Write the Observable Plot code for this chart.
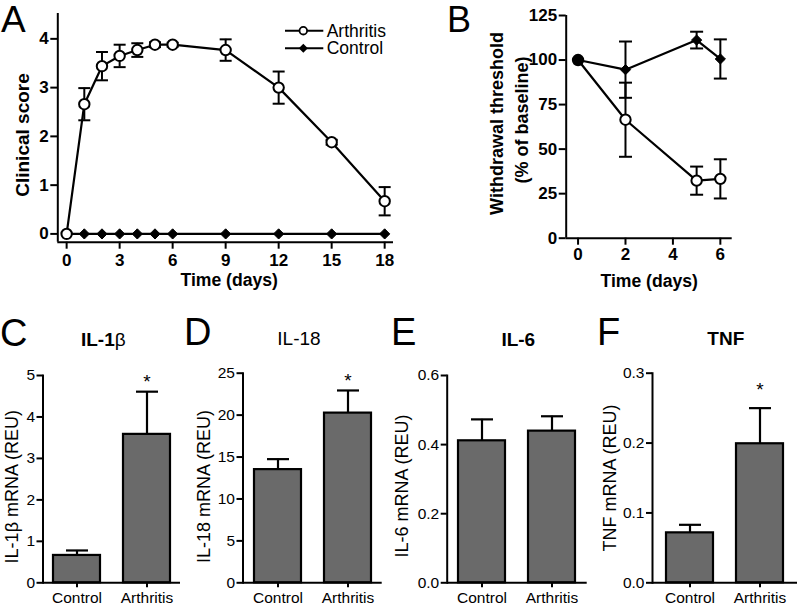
<!DOCTYPE html>
<html><head><meta charset="utf-8">
<script src="https://cdn.jsdelivr.net/npm/d3@7"></script>
<script src="https://cdn.jsdelivr.net/npm/@observablehq/plot@0.6"></script>
<style>
body{margin:0;background:#fff;}
#root{position:relative;width:797px;height:608px;overflow:hidden;background:#fff;}
.panel{position:absolute;}
.panel svg{max-width:none;background:transparent;}
#overlay{position:absolute;left:0;top:0;pointer-events:none;}
.toppanel g[aria-label^="x-axis"] text, .toppanel g[aria-label^="y-axis"] text{font-size:17px !important;font-weight:bold !important;fill:#000 !important;font-family:"Liberation Sans", Arial, sans-serif !important;}
.botpanel g[aria-label^="x-axis"] text, .botpanel g[aria-label^="y-axis"] text{font-size:15.5px !important;font-weight:normal !important;fill:#000 !important;font-family:"Liberation Sans", Arial, sans-serif !important;}
</style></head><body><div id="root"></div>
<script>
// ---------- Panel A: clinical score ----------
const daysA = [0, 1, 2, 3, 4, 5, 6, 9, 12, 15, 18];
const arthritisA = [0, 2.66, 3.44, 3.65, 3.77, 3.88, 3.88, 3.77, 3.0, 1.88, 0.67];
const arthritisAErr = [0, 0.33, 0.29, 0.23, 0.14, 0.05, 0.04, 0.22, 0.33, 0.05, 0.29];
const controlA = [0, 0, 0, 0, 0, 0, 0, 0, 0, 0, 0];
const xTicksA = [0, 3, 6, 9, 12, 15, 18];
const yTicksA = [0, 1, 2, 3, 4];

// ---------- Panel B: withdrawal threshold ----------
const daysB = [0, 2, 5, 6];
const arthritisB = [100, 66.5, 32.3, 33.3];
const arthritisBErr = [0, 20.8, 7.9, 11];
const controlB = [100, 94.6, 111.2, 100.6];
const controlBErr = [0, 15.8, 4.7, 11];
const xTicksB = [0, 2, 4, 6];
const yTicksB = [0, 25, 50, 75, 100, 125];

// ---------- Panels C-F: mRNA ----------
const groups = ["Control", "Arthritis"];
const il1b = [0.66, 3.58], il1bErr = [0.12, 1.03], il1bSig = [false, true];
const il18 = [13.5, 20.24], il18Err = [1.25, 2.7], il18Sig = [false, true];
const il6 = [0.411, 0.439], il6Err = [0.062, 0.043], il6Sig = [false, false];
const tnf = [0.0715, 0.199], tnfErr = [0.0115, 0.051], tnfSig = [false, true];
const yTicksC = [0, 1, 2, 3, 4, 5];
const yTicksD = [0, 5, 10, 15, 20, 25];
const yTicksE = [0, 0.2, 0.4, 0.6];
const yTicksF = [0, 0.1, 0.2, 0.3];

const FONT = '"Liberation Sans", Arial, Helvetica, sans-serif';
const root = document.getElementById("root");
const capSymbol = {draw(ctx, size) { const r = Math.sqrt(size / Math.PI); ctx.moveTo(-r, 0); ctx.lineTo(r, 0); }};
const fInt = d3.format("d");
const f1 = d3.format(".1f");

function place(svg, left, top, cls) {
  const d = document.createElement("div");
  d.className = "panel " + cls; d.style.left = left + "px"; d.style.top = top + "px";
  d.appendChild(svg); root.appendChild(d);
}

function linePanel(o) {
  const A = o.days.map((d, i) => ({day: d, v: o.arth[i], e: o.arthErr[i]}));
  const C = o.days.map((d, i) => ({day: d, v: o.ctrl[i], e: o.ctrlErr ? o.ctrlErr[i] : 0}));
  const err = (data) => {
    const f = data.filter(d => d.e > 0);
    return [
      Plot.ruleX(f, {x: "day", y1: d => d.v - d.e, y2: d => d.v + d.e, stroke: "#000", strokeWidth: 2}),
      Plot.dot(f, {x: "day", y: d => d.v + d.e, symbol: capSymbol, r: o.capR, stroke: "#000", strokeWidth: 2, fill: "none"}),
      Plot.dot(f, {x: "day", y: d => d.v - d.e, symbol: capSymbol, r: o.capR, stroke: "#000", strokeWidth: 2, fill: "none"})
    ];
  };
  const arthMarks = [
    ...err(A),
    Plot.line(A, {x: "day", y: "v", stroke: "#000", strokeWidth: 2.2}),
    Plot.dot(A, {x: "day", y: "v", r: 5.2, stroke: "#000", strokeWidth: 2,
      fill: d => (o.fillOverlap && C.find(c => c.day === d.day).v === d.v) ? "#000" : "#fff"})
  ];
  const ctrlMarks = [
    ...err(C),
    Plot.line(C, {x: "day", y: "v", stroke: "#000", strokeWidth: 2.2}),
    Plot.dot(C, {x: "day", y: "v", symbol: "diamond2", r: 4.6, fill: "#000", stroke: "#000", strokeWidth: 1})
  ];
  const axisText = {fontSize: 17, fontWeight: "bold", fontFamily: FONT, fill: "#000"};
  return Plot.plot({
    width: o.width, height: o.height,
    marginLeft: o.mL, marginRight: o.mR, marginTop: o.mT, marginBottom: o.mB,
    x: {domain: o.xDomain}, y: {domain: o.yDomain},
    style: {fontFamily: FONT, fontSize: "17px", fontWeight: "bold", color: "#000", background: "transparent", overflow: "visible"},
    marks: [
      Plot.ruleX([o.xDomain[0]], {stroke: "#000", strokeWidth: 2}),
      Plot.ruleY([o.yDomain[0]], {stroke: "#000", strokeWidth: 2}),
      Plot.axisX({ticks: o.xTicks, tickSize: 7, tickPadding: o.xPad, strokeWidth: 2, label: null, tickFormat: fInt, ...axisText}),
      Plot.axisY({ticks: o.yTicks, tickSize: 7, tickPadding: 2, strokeWidth: 2, label: null, tickFormat: fInt, ...axisText}),
      ...(o.ctrlOnTop ? [...arthMarks, ...ctrlMarks] : [...ctrlMarks, ...arthMarks])
    ]
  });
}

function barPanel(o) {
  const data = groups.map((g, i) => ({g, v: o.vals[i], e: o.errs[i], s: o.sig[i]}));
  const axisText = {fontSize: 15.5, fontWeight: "normal", fontFamily: FONT, fill: "#000"};
  return Plot.plot({
    width: o.width, height: 308,
    marginLeft: o.mL, marginRight: o.mR, marginTop: o.mT, marginBottom: 25.7,
    x: {domain: groups, range: o.xRange, paddingInner: 0.33, paddingOuter: 0.165},
    y: {domain: [0, o.yMax]},
    style: {fontFamily: FONT, fontSize: "15.5px", fontWeight: "normal", color: "#000", background: "transparent", overflow: "visible"},
    marks: [
      Plot.ruleX(data, {x: "g", y1: "v", y2: d => d.v + d.e, stroke: "#000", strokeWidth: 2.2}),
      Plot.dot(data, {x: "g", y: d => d.v + d.e, symbol: capSymbol, r: 11, stroke: "#000", strokeWidth: 2.2, fill: "none"}),
      Plot.barY(data, {x: "g", y: "v", fill: "#6a6a6a", stroke: "#000", strokeWidth: 2.2}),
      Plot.text(data.filter(d => d.s), {x: "g", y: d => d.v + d.e, text: d => "*", dy: o.starDy, fontSize: 19, fontFamily: FONT}),
      Plot.frame({anchor: "left", stroke: "#000", strokeWidth: 2}),
      Plot.ruleY([0], {stroke: "#000", strokeWidth: 2}),
      Plot.axisX({tickSize: 5, tickPadding: 4, strokeWidth: 2, label: null, ...axisText}),
      Plot.axisY({ticks: o.yTicks, tickSize: 6, tickPadding: 2, strokeWidth: 2, label: null, tickFormat: o.fmt, ...axisText})
    ]
  });
}

place(linePanel({
  width: 400, height: 300, mL: 57.3, mR: 7, mT: 13, mB: 58.3,
  xDomain: [-0.5, 18.5], yDomain: [-0.17, 4.52], xTicks: xTicksA, yTicks: yTicksA, xPad: 5,
  days: daysA, arth: arthritisA, arthErr: arthritisAErr, ctrl: controlA, ctrlErr: null,
  capR: 6, ctrlOnTop: false, fillOverlap: false
}), 0, 0, "toppanel");

place(linePanel({
  width: 397, height: 300, mL: 165.7, mR: 65.3, mT: 15, mB: 62.3,
  xDomain: [-0.5, 6.5], yDomain: [0, 125], xTicks: xTicksB, yTicks: yTicksB, xPad: 3,
  days: daysB, arth: arthritisB, arthErr: arthritisBErr, ctrl: controlB, ctrlErr: controlBErr,
  capR: 6.5, ctrlOnTop: true, fillOverlap: true
}), 400, 0, "toppanel");

place(barPanel({width: 195, mL: 42.5, mR: 15, mT: 75, xRange: [41.7, 181.7], yMax: 5, yTicks: yTicksC,
  vals: il1b, errs: il1bErr, sig: il1bSig, starDy: -10, fmt: fInt}), 0, 300, "botpanel");
place(barPanel({width: 200, mL: 47.5, mR: 13.3, mT: 72.7, xRange: [47.3, 187.3], yMax: 25, yTicks: yTicksD,
  vals: il18, errs: il18Err, sig: il18Sig, starDy: -10, fmt: fInt}), 195, 300, "botpanel");
place(barPanel({width: 200, mL: 51.7, mR: 8.3, mT: 75, xRange: [51.7, 191.7], yMax: 0.6, yTicks: yTicksE,
  vals: il6, errs: il6Err, sig: il6Sig, starDy: -10, fmt: f1}), 395, 300, "botpanel");
place(barPanel({width: 202, mL: 57, mR: 0, mT: 72.7, xRange: [59, 199], yMax: 0.3, yTicks: yTicksF,
  vals: tnf, errs: tnfErr, sig: tnfSig, starDy: -18, fmt: f1}), 595, 300, "botpanel");

// ---------- Text overlay: panel letters, titles, axis titles, legend ----------
const NS = "http://www.w3.org/2000/svg";
const ov = document.createElementNS(NS, "svg");
ov.setAttribute("id", "overlay"); ov.setAttribute("width", 797); ov.setAttribute("height", 608);
ov.setAttribute("font-family", FONT);
function txt(s, x, y, opt = {}) {
  const t = document.createElementNS(NS, "text");
  t.setAttribute("x", 0); t.setAttribute("y", 0);
  t.setAttribute("transform", `translate(${x},${y})` + (opt.rot ? ` rotate(${opt.rot})` : ""));
  t.setAttribute("font-size", opt.size || 17);
  t.setAttribute("font-weight", opt.bold ? "bold" : "normal");
  t.setAttribute("text-anchor", opt.anchor || "start");
  if (opt.dy) t.setAttribute("dy", opt.dy);
  t.setAttribute("fill", "#000");
  if (Array.isArray(s)) {
    for (const [str, b] of s) {
      const ts = document.createElementNS(NS, "tspan");
      ts.textContent = str; ts.setAttribute("font-weight", b ? "bold" : "normal");
      t.appendChild(ts);
    }
  } else t.textContent = s;
  ov.appendChild(t);
}
// panel letters
txt("A", 1, 32, {size: 37});
txt("B", 447, 32, {size: 36});
txt("C", 0, 346, {size: 38});
txt("D", 184, 345, {size: 38});
txt("E", 391, 345, {size: 38});
txt("F", 597, 345, {size: 38});
// titles
txt([["IL-1", true], ["β", false]], 103.3, 346, {size: 19, anchor: "middle"});
txt("IL-18", 299, 345, {size: 19, anchor: "middle"});
txt("IL-6", 518.3, 346, {size: 19, bold: true, anchor: "middle"});
txt("TNF", 725.8, 345, {size: 19, bold: true, anchor: "middle"});
// axis titles top
txt("Clinical score", 22.5, 135, {size: 19, bold: true, anchor: "middle", rot: -90, dy: "0.35em"});
txt("Time (days)", 229.2, 286, {size: 17.6, bold: true, anchor: "middle"});
txt("Withdrawal threshold", 496.7, 123.5, {size: 18, bold: true, anchor: "middle", rot: -90, dy: "0.35em"});
txt("(% of baseline)", 521.7, 120, {size: 18, bold: true, anchor: "middle", rot: -90, dy: "0.35em"});
txt("Time (days)", 649.2, 287, {size: 17.6, bold: true, anchor: "middle"});
// axis titles bottom
txt("IL-1β mRNA (REU)", 11.7, 486.7, {size: 18, anchor: "middle", rot: -90, dy: "0.35em"});
txt("IL-18 mRNA (REU)", 203.3, 486.5, {size: 18, anchor: "middle", rot: -90, dy: "0.35em"});
txt("IL-6 mRNA (REU)", 402, 486, {size: 18, anchor: "middle", rot: -90, dy: "0.35em"});
txt("TNF mRNA (REU)", 610, 478, {size: 18, anchor: "middle", rot: -90, dy: "0.35em"});
// legend (panel A)
function el(tag, attrs) { const e = document.createElementNS(NS, tag); for (const k in attrs) e.setAttribute(k, attrs[k]); ov.appendChild(e); return e; }
el("line", {x1: 285, x2: 323.3, y1: 30.7, y2: 30.7, stroke: "#000", "stroke-width": 2});
el("circle", {cx: 303.3, cy: 30.7, r: 3.8, fill: "#fff", stroke: "#000", "stroke-width": 1.8});
el("line", {x1: 285, x2: 323.3, y1: 48.3, y2: 48.3, stroke: "#000", "stroke-width": 2});
el("path", {d: "M303.3,43.8L307.8,48.3L303.3,52.8L298.8,48.3Z", fill: "#000"});
txt("Arthritis", 326.7, 36.7, {size: 17.5});
txt("Control", 326.7, 54.3, {size: 17.5});
root.appendChild(ov);
</script></body></html>
